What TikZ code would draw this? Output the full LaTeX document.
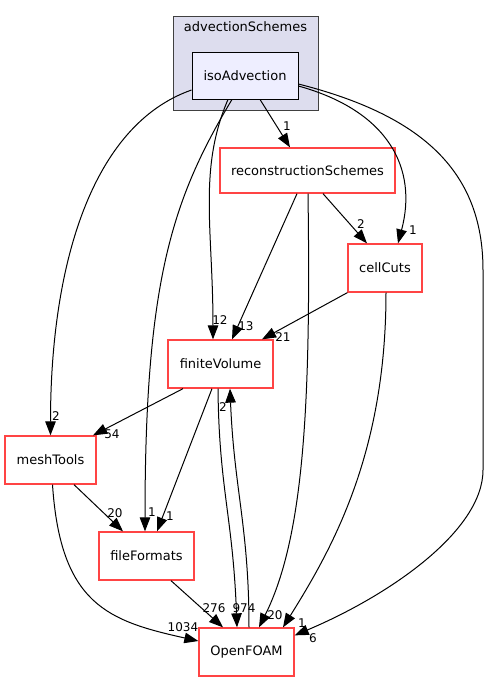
\documentclass[tikz,border=0pt]{standalone}
\usepackage{fontspec}
\setmainfont{DejaVu Sans}
\usetikzlibrary{arrows.meta}
\definecolor{dirred}{RGB}{255,68,68}
\definecolor{clusterfill}{RGB}{221,221,238}
\definecolor{dirfill}{RGB}{238,238,255}

\begin{document}
\begin{tikzpicture}[x=1pt,y=-1pt,
  dirbox/.style={draw=dirred,line width=1.3pt,fill=white,font=\fontsize{13}{15}\selectfont,inner sep=0pt},
  edge/.style={line width=1pt,-{Triangle[length=14pt,width=10.5pt]}},
  lbl/.style={font=\fontsize{12}{14}\selectfont,inner sep=0pt}]
\useasboundingbox (0,0) rectangle (489,681);
% cluster
\node[draw=black!75,line width=0.9pt,fill=clusterfill,minimum width=145pt,minimum height=94pt] (cluster) at (245.5,63) {};
\node[font=\fontsize{13}{15}\selectfont] (clusterlbl) at (245.5,27) {advectionSchemes};
\node[draw=black,line width=0.9pt,fill=dirfill,font=\fontsize{13}{15}\selectfont,minimum width=106pt,minimum height=47pt] (iso) at (245,75.5) {isoAdvection};
% directories
\node[dirbox,minimum width=175pt,minimum height=45pt] (recon) at (307.5,170.5) {reconstructionSchemes};
\node[dirbox,minimum width=74pt,minimum height=48pt] (cell) at (385,268) {cellCuts};
\node[dirbox,minimum width=105pt,minimum height=48pt] (fv) at (220.5,364) {finiteVolume};
\node[dirbox,minimum width=91pt,minimum height=48pt] (mesh) at (50.5,460) {meshTools};
\node[dirbox,minimum width=95pt,minimum height=48pt] (ff) at (146.5,556) {fileFormats};
\node[dirbox,minimum width=95pt,minimum height=48pt] (of) at (246.5,652) {OpenFOAM};
\coordinate (bendA) at (483,270);
\coordinate (bendB) at (483,470);
% dependencies of isoAdvection
\draw[edge] ([yshift=-14.5pt]iso.west) .. controls +(-100,35) and +(0,-170) .. (mesh.north);
\draw[edge] ([xshift=-17pt]iso.south) .. controls +(-30,70) and +(0,-110) .. ([xshift=-7.5pt]fv.north);
\draw[edge] ([xshift=15pt]iso.south) -- ([xshift=-17.5pt]recon.north);
\draw[edge] ([yshift=-10.5pt]iso.east) .. controls +(90,25) and +(20,-75) .. ([xshift=13pt]cell.north);
\draw[edge] ([yshift=-8.5pt]iso.east) .. controls +(122,31) and +(0,-100) .. (bendA) -- (bendB)
  .. controls +(0,60) and +(97,-41) .. ([yshift=-8pt]of.north east);
\draw[edge] ([xshift=-13pt]iso.south) .. controls +(-60,100) and +(0,-250) .. ([xshift=-1.5pt]ff.north);
% other dependencies
\draw[edge] ([xshift=-10.5pt]recon.south) -- ([xshift=11.5pt]fv.north);
\draw[edge] ([xshift=15.5pt]recon.south) -- ([xshift=-18pt]cell.north);
\draw[edge] ([xshift=0.5pt]recon.south) .. controls +(3,210) and +(45,-90) .. ([xshift=12.5pt]of.north);
\draw[edge] (cell.south west) -- ([xshift=41.5pt]fv.north);
\draw[edge] ([xshift=1pt]cell.south) .. controls +(0,160) and +(50,-80) .. ([xshift=36.5pt]of.north);
\draw[edge] ([xshift=-37.5pt]fv.south) -- ([xshift=42.5pt]mesh.north);
\draw[edge] ([xshift=-8.5pt]fv.south) -- ([xshift=10.5pt]ff.north);
\draw[edge] ([xshift=-2.5pt]fv.south) .. controls +(1,100) and +(-4,-110) .. ([xshift=-9.5pt]of.north);
\draw[edge] ([xshift=2.5pt]of.north) .. controls +(0,-100) and +(4,100) .. ([xshift=9.5pt]fv.south);
\draw[edge] ([xshift=23.5pt]mesh.south) -- ([xshift=-23.5pt]ff.north);
\draw[edge] ([xshift=2pt]mesh.south) .. controls +(8,120) and +(-90,-20) .. ([yshift=11pt]of.west);
\draw[edge] ([xshift=24.5pt]ff.south) -- ([xshift=-23.5pt]of.north);
% labels
\node[lbl] (l1) at (56,416) {2};
\node[lbl] (l2) at (220,320) {12};
\node[lbl] (l3) at (287,126) {1};
\node[lbl] (l4) at (413,230) {1};
\node[lbl] (l5) at (313,638) {6};
\node[lbl] (l6) at (152,512) {1};
\node[lbl] (l7) at (246,326) {13};
\node[lbl] (l8) at (361,224) {2};
\node[lbl] (l9) at (275,615) {20};
\node[lbl] (l10) at (283,337) {21};
\node[lbl] (l11) at (302,623) {1};
\node[lbl] (l12) at (112,434) {54};
\node[lbl] (l13) at (170,516) {1};
\node[lbl] (l14) at (244,608) {974};
\node[lbl] (l15) at (223,407) {2};
\node[lbl] (l16) at (115,513) {20};
\node[lbl] (l17) at (183,627) {1034};
\node[lbl] (l18) at (214,608) {276};
\end{tikzpicture}
\end{document}
